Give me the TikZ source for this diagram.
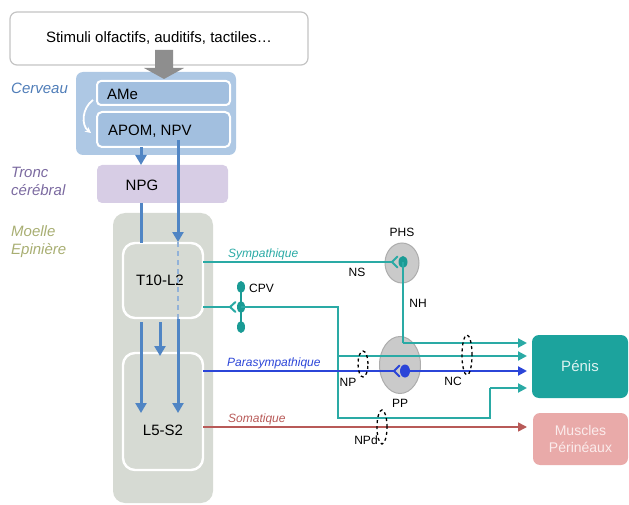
\documentclass[tikz,border=0pt]{standalone}
\usepackage{fontspec}
\setmainfont{Liberation Sans}
\usetikzlibrary{arrows.meta,shapes.geometric}
\definecolor{stimborder}{HTML}{C4C4C4}
\definecolor{bigarrow}{HTML}{8E8E8E}
\definecolor{cerv}{HTML}{AEC8E4}
\definecolor{cervin}{HTML}{A2BFDF}
\definecolor{cervlbl}{HTML}{4F7DB8}
\definecolor{tronc}{HTML}{D7CDE5}
\definecolor{tronclbl}{HTML}{7B6AA0}
\definecolor{moelle}{HTML}{D6DAD3}
\definecolor{moellelbl}{HTML}{A8AE72}
\definecolor{bluearr}{HTML}{5085C4}
\definecolor{bluedash}{HTML}{92B2D8}
\definecolor{symp}{HTML}{2AAAA5}
\definecolor{sympdot}{HTML}{1A9B95}
\definecolor{para}{HTML}{2B45D8}
\definecolor{soma}{HTML}{B85A58}
\definecolor{ganglion}{HTML}{CACACA}
\definecolor{ganglionb}{HTML}{ADADAD}
\definecolor{penis}{HTML}{1CA39D}
\definecolor{penistxt}{HTML}{DDF3F1}
\definecolor{muscle}{HTML}{E9AAA9}
\definecolor{muscletxt}{HTML}{FBECEC}
\begin{document}
\begin{tikzpicture}[x=1pt,y=-1pt,
  big/.style={font=\fontsize{15}{17}\selectfont},
  rbox/.style={rounded corners=7pt, inner sep=0pt, outer sep=0pt},
  side/.style={font=\fontsize{15}{18}\selectfont\itshape, anchor=west, inner sep=0pt, align=left},
  path/.style={font=\fontsize{12}{14}\selectfont\itshape, anchor=base west, inner sep=0pt},
  tag/.style={font=\fontsize{12}{14}\selectfont, inner sep=0pt},
  blarr/.style={bluearr, line width=3pt, -{Triangle[length=10pt,width=11pt]}},
  blline/.style={bluearr, line width=3pt},
  sline/.style={symp, line width=2pt},
  sarr/.style={symp, line width=2pt, -{Triangle[length=9pt,width=9pt]}},
  parr/.style={para, line width=2pt, -{Triangle[length=9pt,width=9pt]}},
  rarr/.style={soma, line width=1.6pt, -{Triangle[length=9pt,width=9pt]}},
  synapse/.style={line width=2pt, line cap=round, line join=round},
  gang/.style={ellipse, fill=ganglion, draw=ganglionb, line width=1pt, inner sep=0pt},
  tdot/.style={ellipse, fill=sympdot, inner sep=0pt, minimum width=8pt, minimum height=12pt},
  nerve/.style={ellipse, draw=black, dashed, line width=1.3pt, inner sep=0pt, minimum width=10pt}
]
\useasboundingbox (0,0) rectangle (629,505);

% stimuli box
\node[rbox, draw=stimborder, line width=1.2pt, fill=white, minimum width=298pt, minimum height=53pt, big] (stim) at (159,38.5) {Stimuli olfactifs, auditifs, tactiles\ldots};

% cerveau
\node[rbox, fill=cerv, minimum width=160pt, minimum height=83pt] (cerv) at (156,113.5) {};
\node[rbox, rounded corners=4pt, fill=cervin, draw=white, line width=2pt, minimum width=133pt, minimum height=24pt] (ame) at (163.5,93) {};
\node[big, anchor=west, inner sep=0pt] (amet) at (107,94) {AMe};
\node[rbox, rounded corners=5pt, fill=cervin, draw=white, line width=2pt, minimum width=133pt, minimum height=35pt] (apom) at (163.5,129.5) {};
\node[big, anchor=west, inner sep=0pt] (apomt) at (108,131) {APOM, NPV};
\draw[white, line width=1.8pt, -{Stealth[length=6pt,width=6pt]}] (93,100) .. controls (82,108) and (81,125) .. (91,133);

% big grey arrow
\fill[bigarrow] (155,50) -- (173,50) -- (173,68) -- (184,68) -- (164,79) -- (144,68) -- (155,68) -- cycle;

% tronc
\node[rbox, rounded corners=5pt, fill=tronc, minimum width=131pt, minimum height=38pt] (tronc) at (162.5,184) {};
\node[big, inner sep=0pt] (npg) at (142,185) {NPG};

% moelle
\node[rbox, rounded corners=12pt, fill=moelle, minimum width=100pt, minimum height=290pt] (moelle) at (163,358) {};
\node[rbox, rounded corners=12pt, fill=moelle, draw=white, line width=2.4pt, minimum width=80pt, minimum height=75pt] (t10) at (163,280.5) {};
\node[big, inner sep=0pt] (t10t) at (160,280) {T10-L2};
\node[rbox, rounded corners=12pt, fill=moelle, draw=white, line width=2.4pt, minimum width=80pt, minimum height=117pt] (l5) at (163,411.5) {};
\node[big, inner sep=0pt] (l5t) at (163,430) {L5-S2};

% side labels
\node[side, text=cervlbl] (lcerv) at (11,88) {Cerveau};
\node[side, text=tronclbl] (ltronc) at (11,181) {Tronc\\cérébral};
\node[side, text=moellelbl] (lmoelle) at (11,242) {Moelle\\Epinière};

% blue descending pathways
\coordinate (a1) at (141,147);
\coordinate (a1e) at (141,165);
\draw[blarr] (a1) -- (a1e);
\coordinate (b0) at (178,140);
\coordinate (b1) at (178,242);
\draw[blarr] (b0) -- (b1);
\coordinate (b2) at (178,319);
\draw[bluedash, line width=2.2pt, dash pattern=on 5pt off 4pt] (b1) -- (b2);
\coordinate (b3) at (178,413);
\draw[blarr] (b2) -- (b3);
\coordinate (c0) at (141,203);
\coordinate (c1) at (141,243);
\draw[blline] (c0) -- (c1);
\coordinate (c2) at (141,322);
\coordinate (c3) at (141,413);
\draw[blarr] (c2) -- (c3);
\coordinate (d0) at (160,322);
\coordinate (d1) at (160,356);
\draw[blarr] (d0) -- (d1);

% ganglia
\node[gang, minimum width=34pt, minimum height=40pt] (phs) at (402,263) {};
\node[tag] (phst) at (402,232) {PHS};
\node[gang, minimum width=41pt, minimum height=57pt] (pp) at (400,365) {};
\node[tag] (ppt) at (400,403) {PP};

% targets
\node[rbox, rounded corners=7pt, fill=penis, text=penistxt, big, minimum width=96pt, minimum height=63pt] (penis) at (580,366.5) {Pénis};
\node[rbox, rounded corners=7pt, fill=muscle, text=muscletxt, font=\fontsize{14}{17}\selectfont, align=center, minimum width=95pt, minimum height=52pt] (musc) at (580.5,439) {Muscles\\Périnéaux};

% sympathique
\node[tdot, minimum width=9pt] (phsdot) at (403,262) {};
\coordinate (s0) at (t10.east |- 0,262);
\coordinate (s1) at (392,262);
\draw[sline] (s0) -- (s1);
\draw[symp, synapse] (397.5,256.5) -- (s1) -- (397.5,267.5);
\node[path, text=symp] (lsymp) at (228,257) {Sympathique};
\node[tag] (ns) at (357,272) {NS};
% NH
\coordinate (nh1) at (403,343);
\coordinate (nh2) at (527,343);
\draw[sline] (phsdot.center) -- (nh1);
\draw[sarr] (nh1) -- (nh2);
\node[tag] (nh) at (418,303) {NH};

% CPV
\node[tdot] (cpv1) at (241,287) {};
\node[tdot] (cpv2) at (241,307) {};
\node[tdot] (cpv3) at (241,327) {};
\draw[sympdot, line width=2pt] (cpv1.center) -- (cpv3.center);
\node[tag, anchor=west] (cpvt) at (249,288) {CPV};
\coordinate (cp0) at (t10.east |- 0,307);
\coordinate (cp1) at (230,307);
\draw[sline] (cp0) -- (cp1);
\draw[symp, synapse] (235.5,302) -- (cp1) -- (235.5,312);
\coordinate (k1) at (338,307);
\coordinate (k2) at (338,418);
\coordinate (k3) at (490,418);
\coordinate (k4) at (490,388);
\coordinate (k5) at (527,388);
\coordinate (kb) at (338,356);
\coordinate (kb2) at (527,356);
\draw[sline, line join=miter] (cpv2.center) -- (k1) -- (k2) -- (k3) -- (k4);
\draw[sarr] (k4) -- (k5);
\draw[sarr] (kb) -- (kb2);

% parasympathique
\coordinate (p0) at (l5.east |- 0,371);
\coordinate (p1) at (394,371);
\draw[para, line width=2pt] (p0) -- (p1);
\draw[para, synapse] (399.5,365.5) -- (p1) -- (399.5,376.5);
\node[ellipse, fill=para, inner sep=0pt, minimum width=10pt, minimum height=13pt] (ppdot) at (405,371) {};
\coordinate (p2) at (527,371);
\draw[parr] (ppdot.center) -- (p2);
\node[path, text=para] (lpara) at (227,366) {Parasympathique};

% somatique
\coordinate (r0) at (l5.east |- 0,427);
\coordinate (r1) at (527,427);
\draw[rarr] (r0) -- (r1);
\node[path, text=soma] (lsoma) at (228,422) {Somatique};

% nerve rings
\node[nerve, minimum height=26pt] (np) at (363,364) {};
\node[tag] (npt) at (348,382) {NP};
\node[nerve, minimum height=40pt] (nc) at (467,355) {};
\node[tag] (nct) at (453,381) {NC};
\node[nerve, minimum height=34pt] (npd) at (382,427) {};
\node[tag] (npdt) at (366,440) {NPd};
\end{tikzpicture}
\end{document}
